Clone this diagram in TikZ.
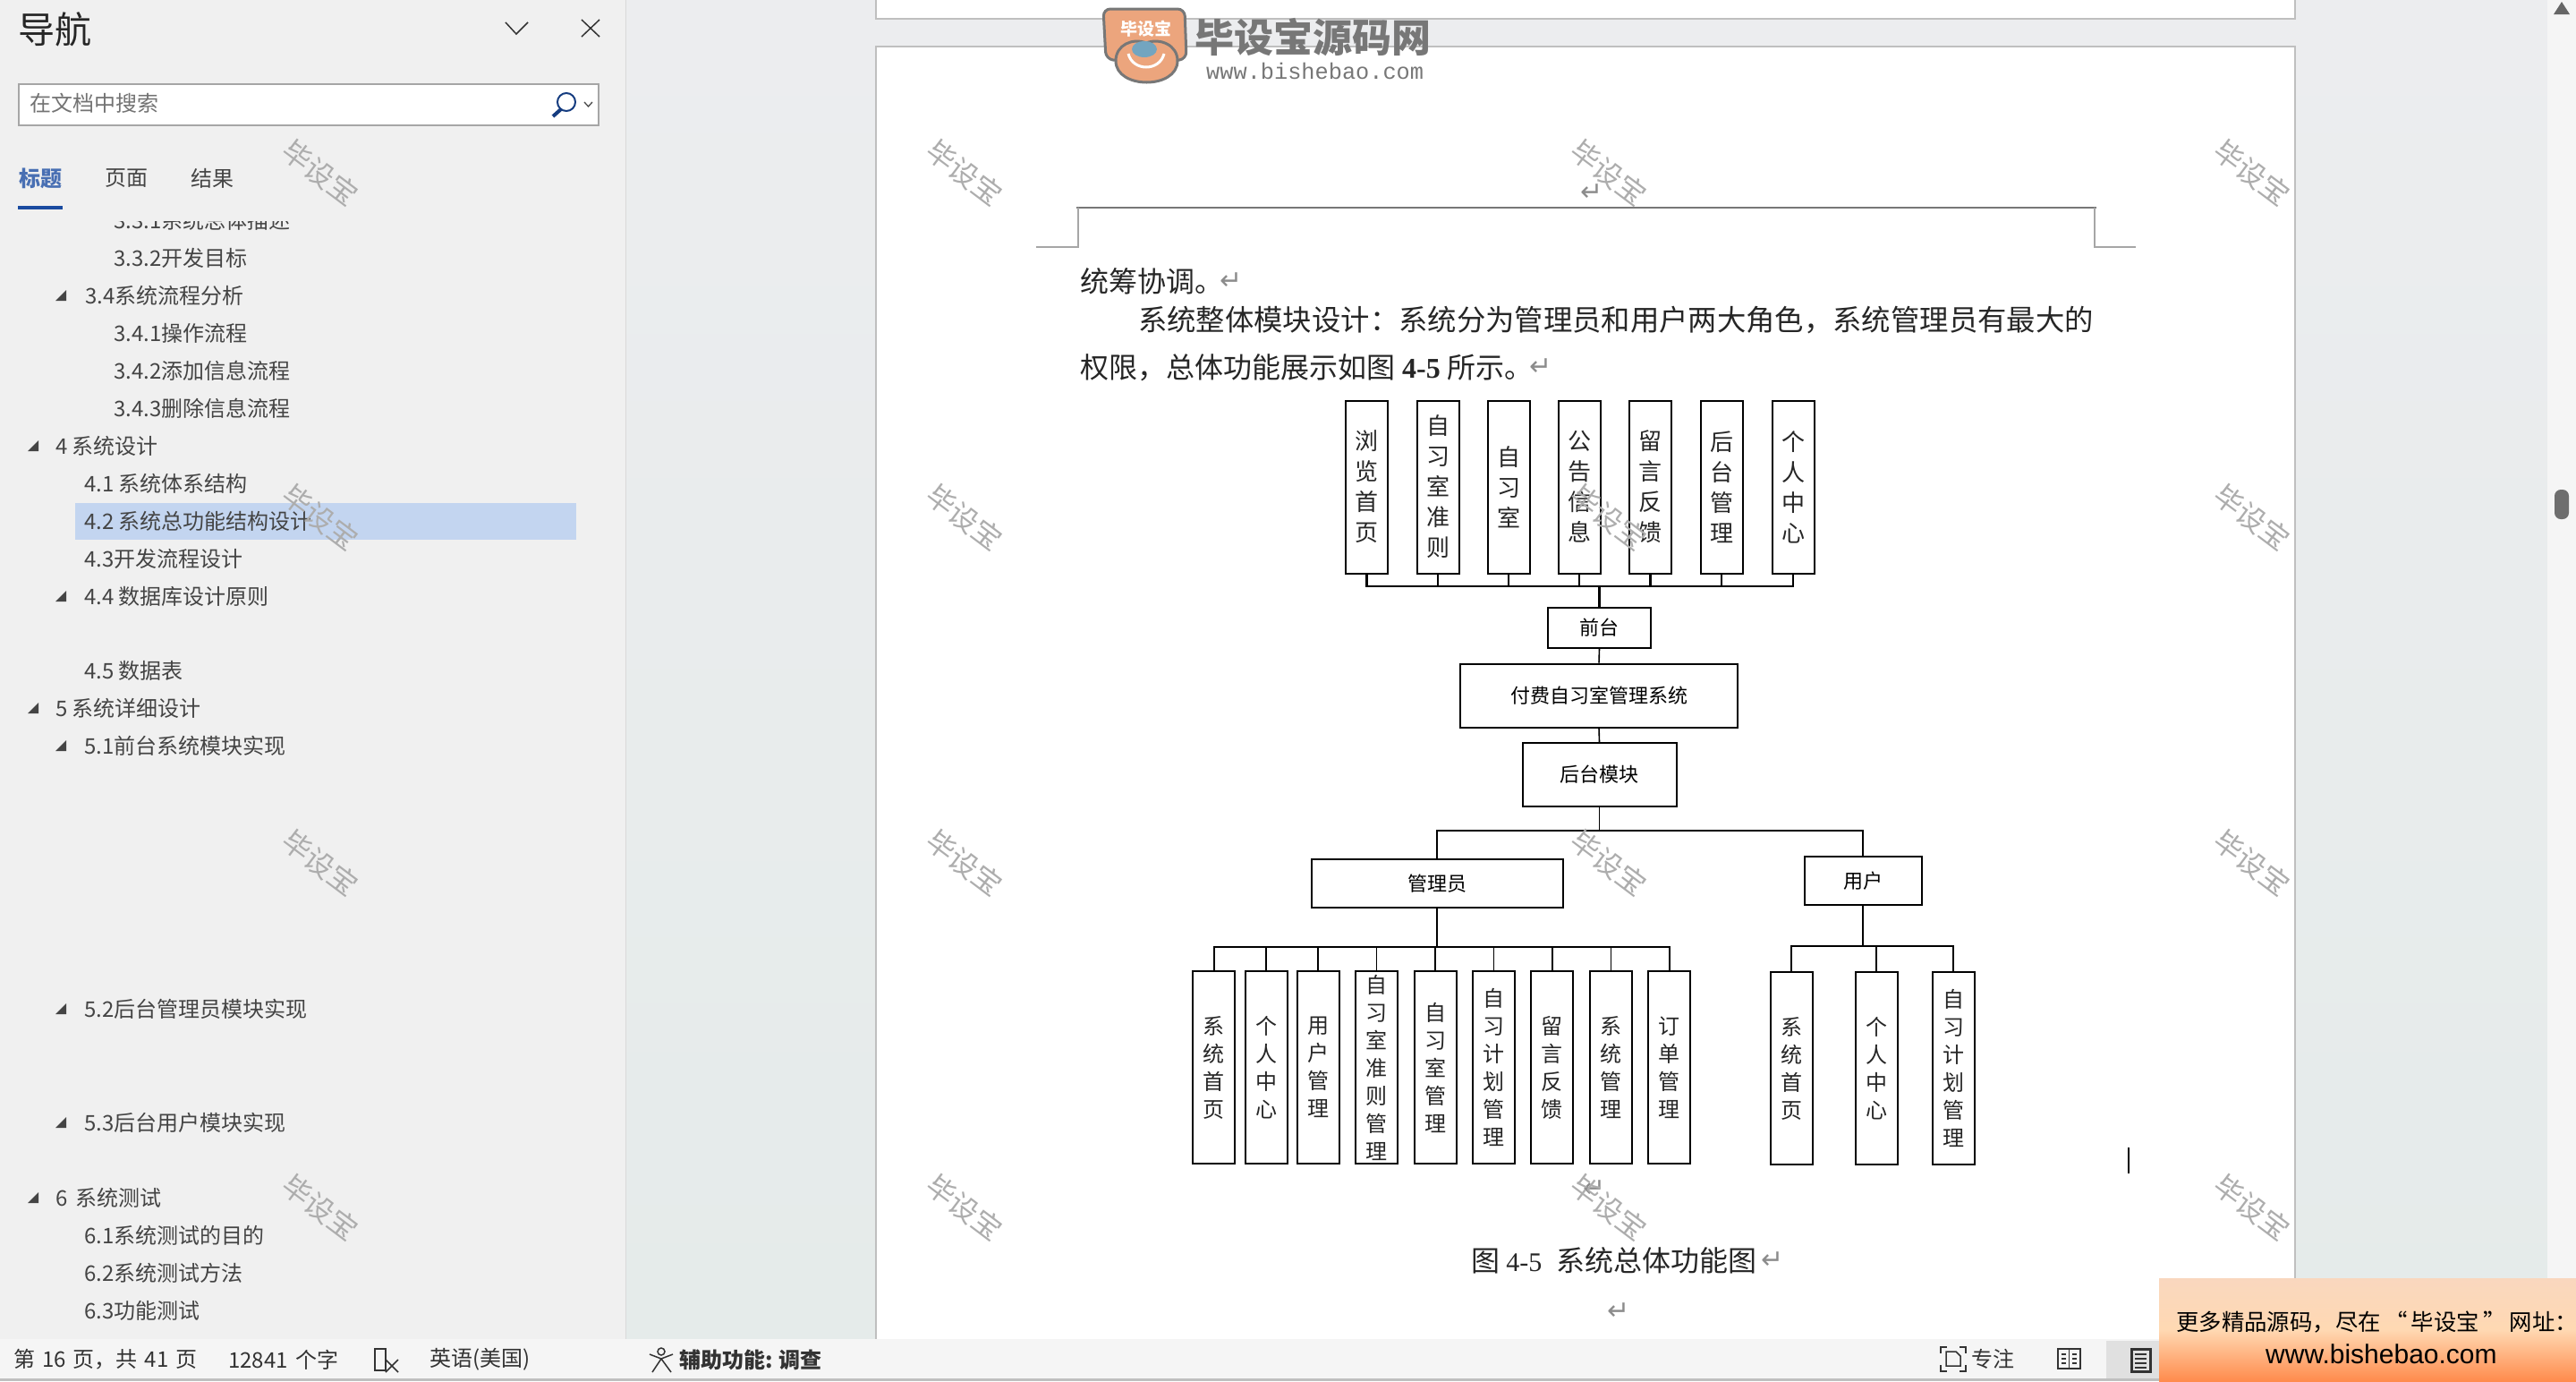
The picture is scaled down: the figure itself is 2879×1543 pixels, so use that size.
\documentclass[tikz,border=0pt]{standalone}
\usepackage{fontspec}
\setmainfont{Noto Sans CJK SC}
\newfontfamily\numfont{Liberation Serif}
\newfontfamily\wwwfont{Liberation Mono}
\newfontfamily\adfont{Liberation Sans}
\newfontfamily\retfont{DejaVu Sans}
\usetikzlibrary{positioning}
\pgfdeclarelayer{edgelayer}
\pgfdeclarelayer{nodelayer}
\pgfdeclarelayer{marklayer}
\pgfsetlayers{main,edgelayer,nodelayer,marklayer}
\definecolor{panelgray}{HTML}{F0F0F0}
\definecolor{worktop}{HTML}{ECEDEF}
\definecolor{workmid}{HTML}{EEEDEC}
\definecolor{workgray}{HTML}{E5EBEA}
\definecolor{barblue}{HTML}{1A4BA0}
\definecolor{rowblue}{HTML}{C3D5F0}
\definecolor{navtext}{HTML}{444444}
\definecolor{logogray}{HTML}{777777}
\definecolor{logoorange}{HTML}{ECA57D}
\tikzstyle{vbox}=[draw=black,line width=2pt,minimum width=47pt,inner sep=0pt,align=center,text=black!85]
\tikzstyle{topbox}=[style=vbox,minimum height=193pt,font=\fontsize{26}{34}\selectfont]
\tikzstyle{subbox}=[style=vbox,minimum height=215pt,font=\fontsize{24}{31}\selectfont]
\tikzstyle{hbox}=[draw=black,line width=2pt,inner sep=0pt,font=\fontsize{22}{26}\selectfont,text=black]
\tikzstyle{bus}=[draw=black,line width=2.5pt]
\tikzstyle{link}=[draw=black,line width=1.6pt]
\tikzstyle{navitem}=[anchor=west,inner sep=0pt,text=navtext,font=\fontsize{24}{28}\selectfont]
\tikzstyle{bartext}=[anchor=west,inner sep=0pt,text=black!80,font=\fontsize{24}{28}\selectfont]
\tikzstyle{bodytext}=[anchor=west,inner sep=0pt,text=black!85,font=\fontsize{32}{36}\selectfont]
\tikzstyle{stamp}=[inner sep=0pt,rotate=-37,text=black!32,font=\fontsize{32}{36}\selectfont]
\tikzstyle{retmark}=[inner sep=0pt,text=black!45,font=\retfont\fontsize{30}{34}\selectfont]
\newcommand{\navtri}[2]{\fill [navtext] (#1,#2) -- ++(12,0) -- ++(0,-12) -- cycle;}
\newcommand{\wcomma}{\symbol{"FF0C}}
\newcommand{\wcolon}{\symbol{"FF1A}}
\begin{document}
\begin{tikzpicture}[x=1pt,y=-1pt]
	\useasboundingbox (0,0) rectangle (2879,1543);
	% window
	\shade [top color=worktop,middle color=workmid,bottom color=workgray] (699,0) rectangle (2847,1496);
	\fill [panelgray] (0,0) rectangle (699,1496);
	\draw [black!15,line width=1pt] (699,0) -- (699,1496);
	\fill [black!4] (2847,0) rectangle (2879,1496);
	\fill [black!60] (2854,16) -- (2863,2) -- (2872,16) -- cycle;
	\fill [black!57,rounded corners=7pt] (2855,547) rectangle (2871,580);
	% pages
	\fill [white] (979,0) rectangle (2565,21);
	\draw [black!25,line width=1.5pt] (979,0) -- (979,21) -- (2565,21) -- (2565,0);
	\fill [white] (979,52) rectangle (2565,1496);
	\draw [black!25,line width=1.5pt] (979,1496) -- (979,52) -- (2565,52) -- (2565,1496);
	\draw [logogray,line width=2pt] (1203,232) -- (2343,232);
	\draw [black!35,line width=1.2pt] (1158,276) -- (1205,276) -- (1205,232);
	\draw [black!35,line width=1.2pt] (2387,276) -- (2341,276) -- (2341,232);
	\fill [black] (2378,1282) rectangle (2380,1311);
	% nav panel head
	\node [anchor=west,inner sep=0pt,text=black!85,font=\fontsize{41}{46}\selectfont] (navtitle) at (20,33) {导航};
	\draw [black!80,line width=1.5pt] (565,25) -- (577,38) -- (590,25);
	\draw [black!80,line width=1.5pt] (650,22) -- (670,41) (670,22) -- (650,41);
	\draw [black!35,fill=white,line width=2pt] (21,94) rectangle (669,140);
	\node [anchor=west,inner sep=0pt,text=black!55,font=\fontsize{24}{28}\selectfont] (searchtext) at (33,115) {在文档中搜索};
	\draw [barblue!80!black,line width=2pt] (633,114) circle (10);
	\draw [barblue!80!black,line width=4pt] (627,122) -- (618,130);
	\draw [black!70,line width=1.3pt] (653,114) -- (657.5,119) -- (662,114);
	\node [anchor=west,inner sep=0pt,text=barblue!80,font=\fontsize{24}{28}\selectfont\bfseries] (tabhead) at (21,199) {标题};
	\node [style=navitem] (tabpage) at (117,199) {页面};
	\node [style=navitem] (tabres) at (213,199) {结果};
	\fill [barblue] (20,230) rectangle (70,234);
	% nav list
	\fill [rowblue] (84,562) rectangle (644,603);
	\begin{scope}
		\clip (0,247) rectangle (699,1474);
		\node [style=navitem] (nav331) at (127,246) {3.3.1系统总体描述};
		\node [style=navitem] (nav332) at (127,288) {3.3.2开发目标};
		\node [style=navitem] (nav34) at (95,330) {3.4系统流程分析};
		\node [style=navitem] (nav341) at (127,372) {3.4.1操作流程};
		\node [style=navitem] (nav342) at (127,414) {3.4.2添加信息流程};
		\node [style=navitem] (nav343) at (127,456) {3.4.3删除信息流程};
		\node [style=navitem] (nav4) at (62,498) {4 系统设计};
		\node [style=navitem] (nav41) at (94,540) {4.1 系统体系结构};
		\node [style=navitem] (nav42) at (94,582) {4.2 系统总功能结构设计};
		\node [style=navitem] (nav43) at (94,624) {4.3开发流程设计};
		\node [style=navitem] (nav44) at (94,666) {4.4 数据库设计原则};
		\node [style=navitem] (nav45) at (94,749) {4.5 数据表};
		\node [style=navitem] (nav5) at (62,791) {5 系统详细设计};
		\node [style=navitem] (nav51) at (94,833) {5.1前台系统模块实现};
		\node [style=navitem] (nav52) at (94,1127) {5.2后台管理员模块实现};
		\node [style=navitem] (nav53) at (94,1254) {5.3后台用户模块实现};
		\node [style=navitem] (nav6) at (62,1338) {6 \,系统测试};
		\node [style=navitem] (nav61) at (94,1380) {6.1系统测试的目的};
		\node [style=navitem] (nav62) at (94,1422) {6.2系统测试方法};
		\node [style=navitem] (nav63) at (94,1464) {6.3功能测试};
	\end{scope}
	\navtri{62}{336}
	\navtri{31}{504}
	\navtri{62}{672}
	\navtri{31}{797}
	\navtri{62}{839}
	\navtri{62}{1133}
	\navtri{62}{1260}
	\navtri{31}{1344}
	% status bar
	\fill [black!4] (0,1496) rectangle (2879,1540);
	\fill [black!25] (0,1540) rectangle (2879,1543);
	\fill [black!12] (2354,1498) rectangle (2413,1540);
	\node [style=bartext] (pagecount) at (15,1519) {第\hspace{8pt}16\hspace{8pt}页\wcomma 共\hspace{8pt}41\hspace{8pt}页};
	\node [style=bartext] (wordcount) at (255,1519) {12841\hspace{9pt}个字};
	\draw [black!80,line width=1.5pt] (419,1507) rectangle (431,1531);
	\draw [black!80,line width=1.5pt] (431,1519) -- (445,1533) (445,1519) -- (431,1533);
	\node [style=bartext] (language) at (480,1519) {英语(美国)};
	\draw [black!80,line width=1.5pt] (739,1510) circle (4) (726,1513) -- (739,1518) -- (752,1513) (739,1518) -- (729,1533) (739,1518) -- (750,1533);
	\node [style=bartext,font=\fontsize{24}{28}\selectfont\bfseries] (access) at (759,1519) {辅助功能: 调查};
	\draw [black!80,line width=1.5pt] (2169,1512) -- (2169,1505) -- (2176,1505) (2190,1505) -- (2197,1505) -- (2197,1512) (2169,1525) -- (2169,1532) -- (2176,1532) (2190,1532) -- (2197,1532) -- (2197,1525);
	\draw [black!80,line width=1.5pt] (2175,1526) -- (2175,1510) -- (2186,1510) -- (2191,1515) -- (2191,1526) -- cycle;
	\node [style=bartext] (focus) at (2203,1518) {专注};
	\draw [black!80,line width=1.5pt] (2300,1507) rectangle (2325,1529) (2312.5,1507) -- (2312.5,1529);
	\draw [black!80,line width=1.2pt] (2304,1513) -- (2309,1513) (2304,1518) -- (2309,1518) (2304,1523) -- (2309,1523) (2316,1513) -- (2321,1513) (2316,1518) -- (2321,1518) (2316,1523) -- (2321,1523);
	\draw [black!80,line width=3pt] (2382,1507) rectangle (2403,1532);
	\draw [black!80,line width=1.5pt] (2386,1513) -- (2399,1513) (2386,1518) -- (2399,1518) (2386,1523) -- (2399,1523) (2386,1528) -- (2399,1528);
	% body text
	\node [style=bodytext] (line1) at (1207,314) {统筹协调。};
	\node [style=bodytext,font=\fontsize{32.35}{36}\selectfont] (line2) at (1272,358) {系统整体模块设计\wcolon 系统分为管理员和用户两大角色\wcomma 系统管理员有最大的};
	\node [style=bodytext] (line3) at (1207,411) {权限\wcomma 总体功能展示如图\hspace{8pt}{\numfont\bfseries 4-5}\hspace{8pt}所示。};
	\node [style=retmark] (ret0) at (1779,215) {↵};
	\node [style=retmark] (ret1) at (1376,314) {↵};
	\node [style=retmark] (ret2) at (1722,410) {↵};
	\node [style=retmark] (ret3) at (1782,1328) {↵};
	\node [style=bodytext] (caption) at (1644,1408) {图 {\numfont\fontsize{30}{34}\selectfont 4-5}\hspace{16pt}系统总体功能图};
	\node [style=retmark] (ret4) at (1981,1408) {↵};
	\node [style=retmark] (ret5) at (1809,1465) {↵};
	\begin{pgfonlayer}{nodelayer}
		\node [style=topbox] (top1) at (1527.5, 544) {浏\\览\\首\\页};
		\node [style=topbox] (top2) at (1607, 544) {自\\习\\室\\准\\则};
		\node [style=topbox] (top3) at (1686, 544) {自\\习\\室};
		\node [style=topbox] (top4) at (1765, 544) {公\\告\\信\\息};
		\node [style=topbox] (top5) at (1844.5, 544) {留\\言\\反\\馈};
		\node [style=topbox] (top6) at (1924, 544) {后\\台\\管\\理};
		\node [style=topbox] (top7) at (2004, 544) {个\\人\\中\\心};
		\node [style=hbox,minimum width=115pt,minimum height=45pt] (front) at (1787.5, 701) {前台};
		\node [style=hbox,minimum width=310pt,minimum height=71pt] (sys) at (1787, 777) {付费自习室管理系统};
		\node [style=hbox,minimum width=172pt,minimum height=71pt] (back) at (1787.5, 865.5) {后台模块};
		\node [style=hbox,minimum width=281pt,minimum height=54pt] (admin) at (1606, 987) {管理员};
		\node [style=hbox,minimum width=131pt,minimum height=54pt] (user) at (2082, 984) {用户};
		\node [style=subbox] (adm1) at (1356.7, 1192.5) {系\\统\\首\\页};
		\node [style=subbox] (adm2) at (1415, 1192.5) {个\\人\\中\\心};
		\node [style=subbox] (adm3) at (1473, 1192.5) {用\\户\\管\\理};
		\node [style=subbox] (adm4) at (1538.5, 1192.5) {自\\习\\室\\准\\则\\管\\理};
		\node [style=subbox] (adm5) at (1604, 1192.5) {自\\习\\室\\管\\理};
		\node [style=subbox] (adm6) at (1669.4, 1192.5) {自\\习\\计\\划\\管\\理};
		\node [style=subbox] (adm7) at (1734.8, 1192.5) {留\\言\\反\\馈};
		\node [style=subbox] (adm8) at (1800.3, 1192.5) {系\\统\\管\\理};
		\node [style=subbox] (adm9) at (1865.8, 1192.5) {订\\单\\管\\理};
		\node [style=subbox] (usr1) at (2002, 1193.5) {系\\统\\首\\页};
		\node [style=subbox] (usr2) at (2097, 1193.5) {个\\人\\中\\心};
		\node [style=subbox] (usr3) at (2183, 1193.5) {自\\习\\计\\划\\管\\理};
	\end{pgfonlayer}
	\begin{pgfonlayer}{edgelayer}
		\coordinate (topjoin) at (1787.5, 655);
		\coordinate (backjoin) at (1787.5, 928);
		\coordinate (admjoin) at (1606, 1058);
		\coordinate (usrjoin) at (2082, 1057);
		\draw [style=bus] (top1.south) |- (topjoin);
		\draw [style=bus] (top2.south) |- (topjoin);
		\draw [style=bus] (top3.south) |- (topjoin);
		\draw [style=bus] (top4.south) |- (topjoin);
		\draw [style=bus] (top5.south) |- (topjoin);
		\draw [style=bus] (top6.south) |- (topjoin);
		\draw [style=bus] (top7.south) |- (topjoin);
		\draw [style=bus] (front.north) -- (topjoin);
		\draw [style=link] (front.south) -- (sys.north);
		\draw [style=link] (sys.south) -- (back.north);
		\draw [style=link] (back.south) -- (backjoin);
		\draw [style=link] (admin.north) |- (backjoin);
		\draw [style=link] (user.north) |- (backjoin);
		\draw [style=bus] (admin.south) -- (admjoin);
		\draw [style=link] (adm1.north) |- (admjoin);
		\draw [style=link] (adm2.north) |- (admjoin);
		\draw [style=link] (adm3.north) |- (admjoin);
		\draw [style=link] (adm4.north) |- (admjoin);
		\draw [style=link] (adm5.north) |- (admjoin);
		\draw [style=link] (adm6.north) |- (admjoin);
		\draw [style=link] (adm7.north) |- (admjoin);
		\draw [style=link] (adm8.north) |- (admjoin);
		\draw [style=link] (adm9.north) |- (admjoin);
		\draw [style=link] (user.south) -- (usrjoin);
		\draw [style=link] (usr1.north) |- (usrjoin);
		\draw [style=link] (usr2.north) |- (usrjoin);
		\draw [style=link] (usr3.north) |- (usrjoin);
	\end{pgfonlayer}
	\begin{pgfonlayer}{marklayer}
		% stamps
		\node [style=stamp] (wm1) at (358, 193) {毕设宝};
		\node [style=stamp] (wm2) at (1078, 193) {毕设宝};
		\node [style=stamp] (wm3) at (1798, 193) {毕设宝};
		\node [style=stamp] (wm4) at (2517, 193) {毕设宝};
		\node [style=stamp] (wm5) at (358, 578) {毕设宝};
		\node [style=stamp] (wm6) at (1078, 578) {毕设宝};
		\node [style=stamp] (wm7) at (1798, 578) {毕设宝};
		\node [style=stamp] (wm8) at (2517, 578) {毕设宝};
		\node [style=stamp] (wm9) at (358, 964) {毕设宝};
		\node [style=stamp] (wm10) at (1078, 964) {毕设宝};
		\node [style=stamp] (wm11) at (1798, 964) {毕设宝};
		\node [style=stamp] (wm12) at (2517, 964) {毕设宝};
		\node [style=stamp] (wm13) at (358, 1349) {毕设宝};
		\node [style=stamp] (wm14) at (1078, 1349) {毕设宝};
		\node [style=stamp] (wm15) at (1798, 1349) {毕设宝};
		\node [style=stamp] (wm16) at (2517, 1349) {毕设宝};
		% logo
		\draw [logogray,fill=logoorange,line width=3pt,rounded corners=8pt] (1233,10) -- (1324,10) -- (1326,66) -- (1310,68) -- (1252,68) -- (1236,66) -- cycle;
		\draw [logogray,fill=logoorange,line width=3pt] (1247,68) .. controls (1247,100) and (1316,100) .. (1316,68) .. controls (1316,50) and (1296,42) .. (1281,48) .. controls (1266,42) and (1247,50) .. (1247,68) -- cycle;
		\fill [blue!35!cyan!55!black!55!white] (1279,55) ellipse (14 and 9);
		\draw [white,line width=3pt] (1261,60) .. controls (1266,80) and (1296,80) .. (1301,60);
		\node [inner sep=0pt,text=white,font=\fontsize{19}{22}\selectfont\bfseries] (logomark) at (1281,32) {毕设宝};
		\node [anchor=west,inner sep=0pt,text=logogray,font=\fontsize{44}{48}\selectfont\bfseries] (logotitle) at (1335,42) {毕设宝源码网};
		\node [anchor=west,inner sep=0pt,text=logogray,font=\wwwfont\fontsize{25.3}{28}\selectfont] (logourl) at (1348,79) {www.bishebao.com};
		% ad
		\path [top color=orange!25!logoorange!40!white,bottom color=orange!70!red!70!white,middle color=orange!30!white] (2413,1428) rectangle (2879,1543);
		\node [anchor=west,inner sep=0pt,text=black,font=\fontsize{25.4}{30}\selectfont] (adline) at (2432,1477) {更多精品源码\wcomma 尽在\,“\,毕设宝\,”\,网址\wcolon};
		\node [anchor=west,inner sep=0pt,text=black,font=\adfont\fontsize{30}{34}\selectfont] (adurl) at (2532,1513) {www.bishebao.com};
	\end{pgfonlayer}
\end{tikzpicture}
\end{document}
